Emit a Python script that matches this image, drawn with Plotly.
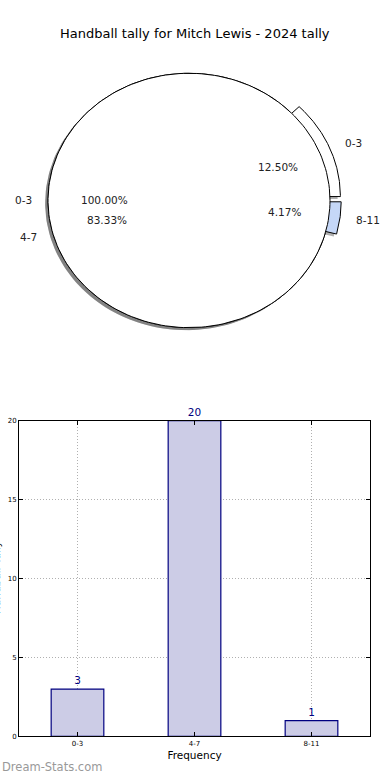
import numpy as np
import plotly.graph_objects as go

# ---- data ----
categories = ["0-3", "4-7", "8-11"]
counts = [3, 20, 1]
pie_colors = ["#ffffff", "#ffffff", "#c5d7f7"]
explode = [0.08, 0.0, 0.08]
pie2_labels = ["0-3"]
pie2_values = [3]
pie2_colors = ["#ffffff"]
title = "Handball tally for Mitch Lewis - 2024 tally"
x_title = "Frequency"
y_title = "Handball Tally"
y_ticks = [0, 5, 10, 15, 20]

W, H = 390, 780
FONT = "DejaVu Sans"
TXT = 10.5

# pie geometry in pixels
cx, cy, rx, ry = 189.0, 198.5, 141.0, 128.5

fig = go.Figure()


def wedges(values, expl):
    total = float(sum(values))
    out = []
    start = 0.0
    for v, e in zip(values, expl):
        span = 360.0 * v / total
        t1, t2 = start, start + span
        mid = np.deg2rad((t1 + t2) / 2)
        ox, oy = e * np.cos(mid), e * np.sin(mid)
        out.append((t1, t2, ox, oy, mid, v / total))
        start = t2
    return out


def wedge_path(t1, t2, ox, oy):
    th = np.deg2rad(np.linspace(t1, t2, 200))
    xs = np.cos(th) + ox
    ys = np.sin(th) + oy
    if t2 - t1 < 359.99:
        xs = np.concatenate([[ox], xs, [ox]])
        ys = np.concatenate([[oy], ys, [oy]])
    return xs, ys


def add_poly(xs, ys, fill, line_color, lw):
    fig.add_trace(go.Scatter(
        x=xs, y=ys, mode="lines", fill="toself", fillcolor=fill,
        line=dict(color=line_color, width=lw), hoverinfo="skip",
        showlegend=False, xaxis="x2", yaxis="y2"))


pie1 = wedges(counts, explode)
pie2 = wedges(pie2_values, [0.0] * len(pie2_values))

SHADOW = "rgba(77,77,77,0.45)"
# shadows of first pie
for (t1, t2, ox, oy, mid, frac) in pie1:
    xs, ys = wedge_path(t1, t2, ox - 0.02, oy - 0.02)
    add_poly(xs, ys, SHADOW, "rgba(0,0,0,0)", 0)
# first pie wedges
for (t1, t2, ox, oy, mid, frac), col in zip(pie1, pie_colors):
    xs, ys = wedge_path(t1, t2, ox, oy)
    add_poly(xs, ys, col, "black", 1)
# shadow + second pie
for (t1, t2, ox, oy, mid, frac) in pie2:
    xs, ys = wedge_path(t1, t2, ox - 0.02, oy - 0.02)
    add_poly(xs, ys, SHADOW, "rgba(0,0,0,0)", 0)
for (t1, t2, ox, oy, mid, frac), col in zip(pie2, pie2_colors):
    xs, ys = wedge_path(t1, t2, ox, oy)
    add_poly(xs, ys, col, "black", 1)

annotations = []


def pie_labels(pie, labels):
    for (t1, t2, ox, oy, mid, frac), lab in zip(pie, labels):
        lx = 1.1 * np.cos(mid) + ox
        ly = 1.1 * np.sin(mid) + oy
        annotations.append(dict(
            x=lx, y=ly, xref="x2", yref="y2", text=lab, showarrow=False,
            xanchor="left" if lx > 0 else "right", yanchor="middle",
            font=dict(family=FONT, size=TXT, color="#222")))
        px = 0.6 * np.cos(mid) + ox
        py = 0.6 * np.sin(mid) + oy
        annotations.append(dict(
            x=px, y=py, xref="x2", yref="y2", text=f"{frac * 100:.2f}%",
            showarrow=False, xanchor="center", yanchor="middle",
            font=dict(family=FONT, size=TXT, color="#222")))


pie_labels(pie1, categories)
pie_labels(pie2, pie2_labels)

# ---- bar chart ----
fig.add_trace(go.Bar(
    x=categories, y=counts, width=0.45,
    marker=dict(color="#ccccE6", line=dict(color="#000080", width=1.2)),
    text=[str(c) for c in counts], textposition="outside",
    textfont=dict(family=FONT, size=TXT, color="#000080"),
    cliponaxis=False, hoverinfo="skip", showlegend=False,
    xaxis="x", yaxis="y"))

# title
annotations.append(dict(
    x=0.5, y=1 - 30 / H, xref="paper", yref="paper", text=title,
    showarrow=False, xanchor="center", yanchor="middle",
    font=dict(family=FONT, size=13, color="black")))
# y axis label (clipped at left edge, as in the reference)
annotations.append(dict(
    x=-4 / W, y=1 - 580 / H, xref="paper", yref="paper", text=y_title,
    showarrow=False, xanchor="center", yanchor="middle", textangle=-90,
    font=dict(family=FONT, size=TXT, color="black")))
# watermark
annotations.append(dict(
    x=0, y=1 - 771 / H, xref="paper", yref="paper", text="Dream-Stats.com",
    showarrow=False, xanchor="left", yanchor="middle",
    font=dict(family=FONT, size=11.5, color="#999999")))

# axis ranges for pie (pixel-consistent ellipse)
x2_range = [(0 - cx) / rx, (W - cx) / rx]
y2_range = [(cy - 390) / ry, cy / ry]

GRID = dict(showgrid=True, gridcolor="#b0b0b0", griddash="1px,2px", gridwidth=1)

fig.update_layout(
    width=W, height=H, margin=dict(l=0, r=0, t=0, b=0),
    paper_bgcolor="white", plot_bgcolor="white",
    annotations=annotations,
    xaxis2=dict(domain=[0, 1], range=x2_range, visible=False, anchor="y2",
                fixedrange=True),
    yaxis2=dict(domain=[0.5, 1], range=y2_range, visible=False, anchor="x2",
                fixedrange=True),
    xaxis=dict(domain=[19 / W, 370 / W], anchor="y", range=[-0.5, 2.5],
               showline=True, linecolor="black", linewidth=1, mirror="ticks",
               ticks="inside", ticklen=4, tickcolor="black",
               tickfont=dict(family=FONT, size=7, color="black"),
               title=dict(text=x_title, standoff=4,
                          font=dict(family=FONT, size=TXT, color="black")),
               fixedrange=True, **GRID),
    yaxis=dict(domain=[(H - 740) / H, (H - 421) / H], anchor="x",
               range=[0, 20], tickvals=y_ticks,
               showline=True, linecolor="black", linewidth=1, mirror="ticks",
               ticks="inside", ticklen=4, tickcolor="black",
               zeroline=False,
               tickfont=dict(family=FONT, size=7, color="black"),
               fixedrange=True, **GRID),
)

fig.write_html(
    "out.html",
    config={"displayModeBar": False},
    post_script="document.body.style.margin='0';document.body.style.overflow='hidden';",
)
